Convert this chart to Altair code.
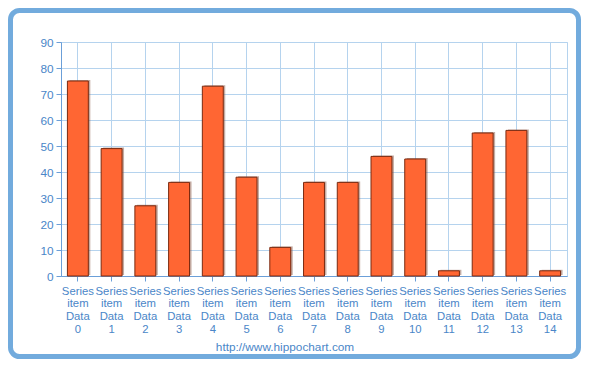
import altair as alt
import pandas as pd

categories = [f"Series item Data {i}" for i in range(15)]
values = [75, 49, 27, 36, 73, 38, 11, 36, 36, 46, 45, 2, 55, 56, 2]
y_ticks = [0, 10, 20, 30, 40, 50, 60, 70, 80, 90]
footer = "http://www.hippochart.com"

df = pd.DataFrame({"cat": categories, "val": values})

BLUE = "#4a86c8"
GRID = "#b5d3ee"
AXIS = "#6b9fd8"
FRAME = "#72abdd"

x_enc = alt.X(
    "cat:N",
    sort=categories,
    title=None,
    scale=alt.Scale(paddingInner=0.38, paddingOuter=0.19),
    axis=alt.Axis(
        labelExpr="split(datum.label, ' ')",
        labelAngle=0,
        labelColor=BLUE,
        labelFont="Liberation Sans",
        labelFontSize=11.3,
        labelLineHeight=12.7,
        labelOverlap=False,
        labelPadding=4,
        labelBaseline="top",
        bandPosition=0.5,
        grid=True,
        gridColor=GRID,
        gridWidth=1,
        domainColor=AXIS,
        tickColor=AXIS,
        tickSize=5,
    ),
)
y_enc = alt.Y(
    "val:Q",
    title=None,
    scale=alt.Scale(domain=[0, 90], nice=False),
    axis=alt.Axis(
        values=y_ticks,
        labelColor=BLUE,
        labelFont="Liberation Sans",
        labelFontSize=11.8,
        labelPadding=3,
        grid=True,
        gridColor=GRID,
        gridWidth=1,
        domainColor=AXIS,
        tickColor=AXIS,
        tickSize=5,
    ),
)

base = alt.Chart(df)
shadow = base.mark_bar(color="#8a5a48", opacity=0.5, xOffset=2, yOffset=-1).encode(x=x_enc, y=y_enc)
bars = base.mark_bar(fill="#ff6633", stroke="#7a2a10", strokeWidth=1).encode(x=x_enc, y=y_enc)

frame = alt.Chart(alt.Data(values=[{"a": 1}])).mark_rect(
    fill=None, filled=False, stroke=FRAME, strokeWidth=5, cornerRadius=9, clip=False
).encode(
    x=alt.value(-50.5), x2=alt.value(517.5), y=alt.value(-31.5), y2=alt.value(314.5)
)

foot = alt.Chart(alt.Data(values=[{"t": footer}])).mark_text(
    color=BLUE, font="Liberation Sans", fontSize=11.8, align="center", baseline="middle", clip=False
).encode(text="t:N", x=alt.value(224), y=alt.value(305))

chart = alt.layer(shadow, bars, frame, foot).properties(
    width=506,
    height=234,
    autosize=alt.AutoSizeParams(type="none"),
    padding={"left": 53, "top": 34, "right": 14, "bottom": 83},
    background="white",
).configure_view(stroke=GRID, strokeWidth=1)

chart.save("out.html", embed_options={"renderer": "svg", "actions": False})
